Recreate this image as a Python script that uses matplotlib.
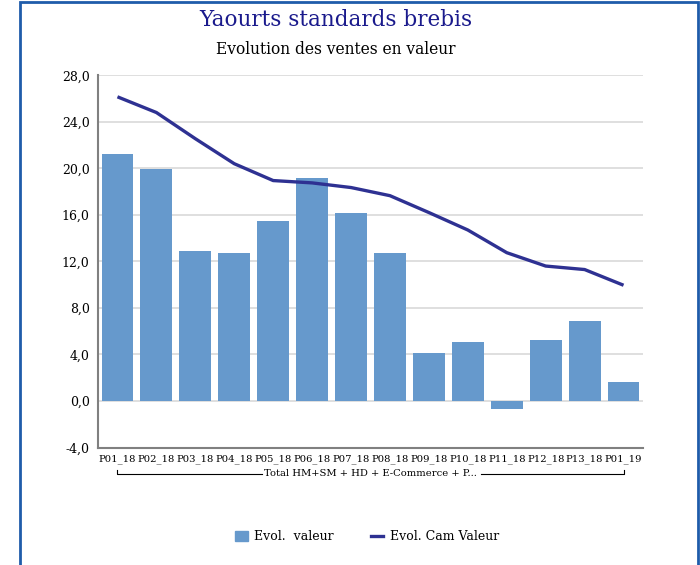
import matplotlib
matplotlib.use("Agg")
import matplotlib.pyplot as plt
from matplotlib.patches import Rectangle
from matplotlib.lines import Line2D
import numpy as np

categories = ["P01_18", "P02_18", "P03_18", "P04_18", "P05_18", "P06_18", "P07_18",
              "P08_18", "P09_18", "P10_18", "P11_18", "P12_18", "P13_18", "P01_19"]
evol_valeur = [21.2, 19.95, 12.9, 12.75, 15.5, 19.2, 16.2, 12.75, 4.1, 5.1, -0.7, 5.2, 6.9, 1.6]
evol_cam_valeur = [26.15, 24.8, 22.55, 20.4, 18.95, 18.75, 18.35, 17.65, 16.2, 14.7, 12.75, 11.6, 11.3, 9.95]
yticks = [-4, 0, 4, 8, 12, 16, 20, 24, 28]
group_label = "Total HM+SM + HD + E-Commerce + P..."
title = "Yaourts standards brebis"
subtitle = "Evolution des ventes en valeur"

plt.rcParams['font.family'] = ['DejaVu Serif']

W, H = 700, 565
fig = plt.figure(figsize=(7, 5.65), dpi=100)

# outer frame
fig.patches.append(Rectangle((19.5 / W, -0.05), (698 - 19.5) / W, 1.05 - 2.5 / H,
                             transform=fig.transFigure, fill=False,
                             edgecolor='#1f5caa', linewidth=2.0))

ax = fig.add_axes([98 / W, 1 - 447.5 / H, (643 - 98) / W, (447.5 - 75.3) / H])
x = np.arange(len(categories))
ax.bar(x, evol_valeur, width=0.82, color='#6699cc', zorder=2)
ax.plot(x, evol_cam_valeur, color='#2e3192', linewidth=2.4, zorder=3,
        solid_capstyle='butt')

ax.set_xlim(-0.5, len(categories) - 0.5)
ax.set_ylim(-4, 28)
ax.set_yticks(yticks)
ax.set_yticklabels([f"{v:.1f}".replace('.', ',') for v in yticks], fontsize=9)
ax.set_xticks(x)
ax.set_xticklabels(categories, fontsize=7.2)
ax.tick_params(axis='both', length=0, pad=6)
ax.tick_params(axis='x', pad=5)
ax.yaxis.grid(True, color='#d9d9d9', linewidth=1.2, zorder=0)
ax.set_axisbelow(True)
for s in ['top', 'right']:
    ax.spines[s].set_visible(False)
ax.spines['left'].set_color('#808080')
ax.spines['left'].set_linewidth(1.5)
ax.spines['bottom'].set_color('#808080')
ax.spines['bottom'].set_linewidth(1.5)

# group bracket under tick labels
tr = ax.get_xaxis_transform()
yb = -(474 - 447.5) / (447.5 - 75.3)
ytop = -(470 - 447.5) / (447.5 - 75.3)
mid = (len(categories) - 1) / 2
ax.plot([0, 0, mid - 2.8], [ytop, yb, yb], color='black', linewidth=0.8,
        transform=tr, clip_on=False)
ax.plot([mid + 2.85, len(categories) - 1, len(categories) - 1], [yb, yb, ytop],
        color='black', linewidth=0.8, transform=tr, clip_on=False)
ax.text(mid, yb, group_label, transform=tr, ha='center', va='center',
        fontsize=7.2, clip_on=False)

fig.text(336 / W, 1 - 20 / H, title, ha='center', va='center',
         fontsize=15.5, color='#1a1a8c')
fig.text(336 / W, 1 - 50 / H, subtitle, ha='center', va='center',
         fontsize=11.2, color='black')

handles = [Rectangle((0, 0), 1, 1, color='#6699cc'),
           Line2D([0], [0], color='#2e3192', linewidth=2.4)]
fig.legend(handles, ["Evol.  valeur", "Evol. Cam Valeur"],
           loc='center', bbox_to_anchor=(367 / W, 1 - 537 / H), ncol=2,
           frameon=False, fontsize=9, handlelength=1.0, handleheight=0.9,
           columnspacing=3.0, handletextpad=0.5)

fig.savefig("out.png", dpi=100)
